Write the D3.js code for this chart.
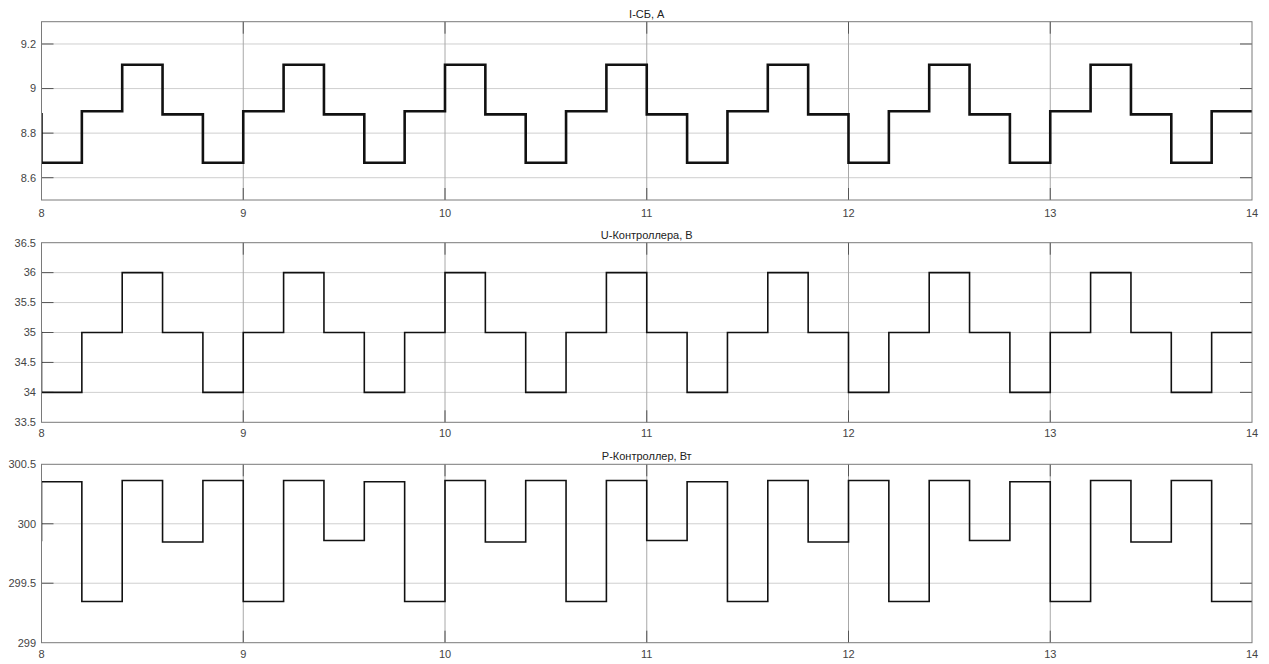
<!DOCTYPE html>
<html><head><meta charset="utf-8">
<script src="https://cdn.jsdelivr.net/npm/d3@7"></script>
<style>
html,body{margin:0;padding:0;background:#fff;}
svg{display:block;font-family:"Liberation Sans",Arial,sans-serif;}
</style></head>
<body><svg id="c" width="1269" height="664"></svg>
<script>
// Step start times (s); first value 7.8 is the segment just before the visible window
const stepTimes = [7.8, 8.0, 8.2, 8.4, 8.6, 8.8, 9.0, 9.2, 9.4, 9.6, 9.8, 10.0, 10.2, 10.4, 10.6, 10.8,
  11.0, 11.2, 11.4, 11.6, 11.8, 12.0, 12.2, 12.4, 12.6, 12.8, 13.0, 13.2, 13.4, 13.6, 13.8, 14.0];

const currentSB = [8.884, 8.667, 8.898, 9.107, 8.884, 8.667, 8.898, 9.107, 8.884, 8.667, 8.898, 9.107, 8.884,
  8.667, 8.898, 9.107, 8.884, 8.667, 8.898, 9.107, 8.884, 8.667, 8.898, 9.107, 8.884, 8.667, 8.898, 9.107,
  8.884, 8.667, 8.898, 8.898];

const voltageCtrl = [35, 34, 35, 36, 35, 34, 35, 36, 35, 34, 35, 36, 35, 34, 35, 36, 35, 34, 35, 36, 35,
  34, 35, 36, 35, 34, 35, 36, 35, 34, 35, 35];

const powerCtrl = [299.859, 300.353, 299.347, 300.364, 299.847, 300.364, 299.347, 300.364, 299.859,
  300.353, 299.347, 300.364, 299.847, 300.364, 299.347, 300.364, 299.859, 300.353, 299.347, 300.364, 299.847,
  300.364, 299.347, 300.364, 299.859, 300.353, 299.347, 300.364, 299.847, 300.364, 299.347, 299.347];

const xTicks = [8, 9, 10, 11, 12, 13, 14];
const xTickLabels = ["8", "9", "10", "11", "12", "13", "14"];

const panels = [
  {title: "I-СБ, А", values: currentSB, domain: [8.5, 9.3], ticks: [8.6, 8.8, 9.0, 9.2],
   tickLabels: ["8.6", "8.8", "9", "9.2"], top: 21.7, bottom: 200, width: 2.6},
  {title: "U-Контроллера, В", values: voltageCtrl, domain: [33.5, 36.5],
   ticks: [33.5, 34, 34.5, 35, 35.5, 36, 36.5],
   tickLabels: ["33.5", "34", "34.5", "35", "35.5", "36", "36.5"], top: 242.7, bottom: 422.3, width: 1.6},
  {title: "P-Контроллер, Вт", values: powerCtrl, domain: [299, 300.5], ticks: [299, 299.5, 300, 300.5],
   tickLabels: ["299", "299.5", "300", "300.5"], top: 464.3, bottom: 642.7, width: 1.6}
];

const svg = d3.select("#c");
const left = 41.5, right = 1252;
const x = d3.scaleLinear().domain([8, 14]).range([left, right]);

panels.forEach((p, i) => {
  const y = d3.scaleLinear().domain(p.domain).range([p.bottom, p.top]);
  const g = svg.append("g");
  const clipId = "clip" + i;
  g.append("clipPath").attr("id", clipId).append("rect")
    .attr("x", left).attr("y", p.top).attr("width", right - left).attr("height", p.bottom - p.top);

  // horizontal grid
  g.selectAll(".hg").data(p.ticks.filter(t => t > p.domain[0] && t < p.domain[1])).enter().append("line")
    .attr("x1", left).attr("x2", right)
    .attr("y1", d => y(d)).attr("y2", d => y(d))
    .attr("stroke", "#cfcfcf").attr("stroke-width", 1);
  // vertical grid
  g.selectAll(".vg").data(xTicks.filter(t => t > 8 && t < 14)).enter().append("line")
    .attr("x1", d => x(d)).attr("x2", d => x(d))
    .attr("y1", p.top).attr("y2", p.bottom)
    .attr("stroke", "#a8a8a8").attr("stroke-width", 1);

  // y tick marks (inward, both sides)
  const yt = p.ticks.filter(t => t > p.domain[0] && t < p.domain[1]);
  g.selectAll(".ytl").data(yt).enter().append("line")
    .attr("x1", left).attr("x2", left + 12).attr("y1", d => y(d)).attr("y2", d => y(d))
    .attr("stroke", "#555").attr("stroke-width", 1);
  g.selectAll(".ytr").data(yt).enter().append("line")
    .attr("x1", right - 12).attr("x2", right).attr("y1", d => y(d)).attr("y2", d => y(d))
    .attr("stroke", "#555").attr("stroke-width", 1);
  // x tick marks (inward, top and bottom)
  const xt = xTicks.filter(t => t > 8 && t < 14);
  g.selectAll(".xtb").data(xt).enter().append("line")
    .attr("x1", d => x(d)).attr("x2", d => x(d)).attr("y1", p.bottom).attr("y2", p.bottom - 12)
    .attr("stroke", "#555").attr("stroke-width", 1);
  g.selectAll(".xtt").data(xt).enter().append("line")
    .attr("x1", d => x(d)).attr("x2", d => x(d)).attr("y1", p.top).attr("y2", p.top + 12)
    .attr("stroke", "#555").attr("stroke-width", 1);

  // data line
  const pts = stepTimes.map((t, k) => [t, p.values[k]]);
  g.append("path").datum(pts)
    .attr("clip-path", `url(#${clipId})`)
    .attr("fill", "none").attr("stroke", "#111").attr("stroke-width", p.width)
    .attr("d", d3.line().x(d => x(d[0])).y(d => y(d[1])).curve(d3.curveStepAfter));

  // box
  g.append("rect").attr("x", left).attr("y", p.top).attr("width", right - left).attr("height", p.bottom - p.top)
    .attr("fill", "none").attr("stroke", "#7a7a7a").attr("stroke-width", 1);

  // y labels
  g.selectAll(".yl").data(p.ticks).enter().append("text")
    .attr("x", 36).attr("y", d => y(d)).attr("dy", "0.35em")
    .attr("text-anchor", "end").attr("font-size", 11).attr("fill", "#444")
    .text((d, k) => p.tickLabels[k]);
  // x labels
  g.selectAll(".xl").data(xTicks).enter().append("text")
    .attr("x", d => x(d)).attr("y", p.bottom + (i === 0 ? 17 : 15))
    .attr("text-anchor", "middle").attr("font-size", 11).attr("fill", "#444")
    .text((d, k) => xTickLabels[k]);
  // title
  g.append("text").attr("x", (left + right) / 2).attr("y", p.top - 4)
    .attr("text-anchor", "middle").attr("font-size", 11).attr("fill", "#222")
    .text(p.title);
});
</script></body></html>
